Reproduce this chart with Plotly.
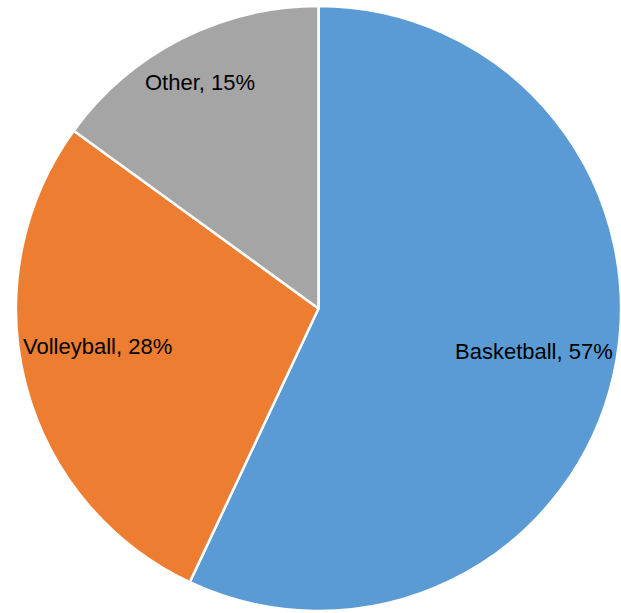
import math
import plotly.graph_objects as go

# Share of students by favourite sport
sports = ["Basketball", "Volleyball", "Other"]
shares = [57, 28, 15]
slice_colors = ["#5B9BD5", "#ED7D31", "#A5A5A5"]

# Label placement: fraction of pie radius and angular nudge (degrees) per slice
label_radius = [0.727, 0.74, 0.842]
label_nudge = [-1.2, 4.6, -0.7]

W, H = 621, 613
dom_x = [16 / W, 1.0]
dom_y = [1 / H, 608 / H]

fig = go.Figure(
    go.Pie(
        labels=sports,
        values=shares,
        sort=False,
        direction="clockwise",
        rotation=0,
        marker=dict(colors=slice_colors, line=dict(color="white", width=2.5)),
        textinfo="none",
        hoverinfo="label+percent",
        domain=dict(x=dom_x, y=dom_y),
        showlegend=False,
    )
)

# Pie geometry in pixels, derived from the domain
px_w = (dom_x[1] - dom_x[0]) * W
px_h = (dom_y[1] - dom_y[0]) * H
R = min(px_w, px_h) / 2
cx = (dom_x[0] + dom_x[1]) / 2 * W
cy = H - (dom_y[0] + dom_y[1]) / 2 * H

total = sum(shares)
cum = 0
annotations = []
for name, val, rf, nudge in zip(sports, shares, label_radius, label_nudge):
    mid = (cum + val / 2) / total * 2 * math.pi + math.radians(nudge)
    cum += val
    r = rf * R
    px = cx + r * math.sin(mid)
    py = cy - r * math.cos(mid)
    annotations.append(
        dict(
            x=px / W,
            y=1 - py / H,
            xref="paper",
            yref="paper",
            text=f"{name}, {round(val / total * 100)}%",
            showarrow=False,
            xanchor="center",
            yanchor="middle",
            font=dict(family="Liberation Sans, Arial, sans-serif", size=22, color="#000000"),
        )
    )

fig.update_layout(
    width=W,
    height=H,
    margin=dict(l=0, r=0, t=0, b=0),
    paper_bgcolor="white",
    plot_bgcolor="white",
    annotations=annotations,
)

fig.write_html("out.html")
